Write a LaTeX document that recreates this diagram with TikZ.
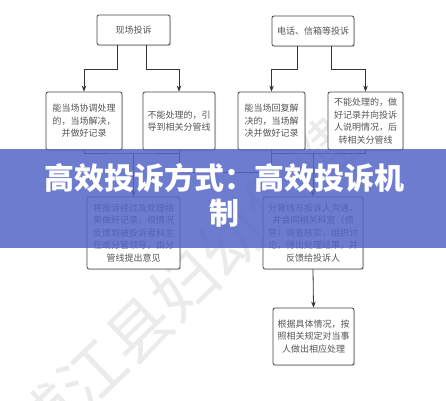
\documentclass[tikz,border=0pt]{standalone}
\usepackage{fontspec}
\newfontfamily\cjk{Noto Sans CJK SC}
\usetikzlibrary{arrows.meta,shadows,calc}
\definecolor{bandblue}{RGB}{84,102,198}
\definecolor{boxline}{RGB}{70,70,70}
\definecolor{boxtext}{RGB}{85,85,85}
\tikzset{
  flowbox/.style={draw=boxline, line width=0.8pt, rounded corners=2pt, fill=white,
    align=center, inner sep=0pt, text=boxtext,
    font=\cjk\fontsize{9}{12.5}\selectfont,
    drop shadow={shadow xshift=1pt, shadow yshift=-1.2pt, opacity=0.25}},
  conn/.style={draw=black!80, line width=0.8pt},
  arr/.style={conn, -{Stealth[length=6pt,width=4.5pt]}},
  titletext/.style={align=center, font=\cjk\bfseries\fontsize{30}{35}\selectfont}
}
\begin{document}
\begin{tikzpicture}[x=1pt,y=-1pt]
\useasboundingbox (0,0) rectangle (446,400);
\fill[white] (0,0) rectangle (446,400);
% watermark
\node[rotate=44, text=black!8, font=\cjk\fontsize{64}{70}\selectfont] (wm) at (185,285) {浦江县妇幼保健};
% boxes
\node[flowbox, minimum width=73pt, minimum height=30pt] (t1) at (133.5,30) {现场投诉};
\node[flowbox, minimum width=82pt, minimum height=30pt] (t2) at (313,31) {电话、信箱等投诉};
\node[flowbox, minimum width=76pt, minimum height=58pt] (b1) at (84,121) {能当场协调处理\\的，当场解决，\\并做好记录};
\node[flowbox, minimum width=72pt, minimum height=58pt] (b2) at (179,121) {不能处理的，引\\导到相关分管线};
\node[flowbox, minimum width=67pt, minimum height=58pt] (b3) at (271.5,121) {能当场回复解\\决的，当场解\\决并做好记录};
\node[flowbox, minimum width=75pt, minimum height=58pt] (b4) at (365.5,121) {不能处理的，做\\好记录并向投诉\\人说明情况，后\\转相关分管线};
\node[flowbox, minimum width=93pt, minimum height=72pt] (c1) at (133.5,233) {将投诉经过及处理结\\果做好记录，视情况\\反馈到被投诉者科主\\任或分管领导，由分\\管线提出意见};
\node[flowbox, minimum width=100pt, minimum height=72pt] (c2) at (313,233) {分管线与投诉人沟通，\\并会同相关科室（领\\导）调查核实，组织讨\\论，得出处理结果，并\\反馈给投诉人};
\node[flowbox, minimum width=81pt, minimum height=57pt] (d1) at (313.5,336.5) {根据具体情况，按\\照相关规定对当事\\人做出相应处理};
% connectors top
\draw[arr] ([xshift=-16.5pt]t1.south) -- ++(0,24) -| (b1.north);
\draw[arr] ([xshift=12.5pt]t1.south) -- ++(0,24) -| (b2.north);
\draw[arr] ([xshift=-16pt]t2.south) -- ++(0,23) -| (b3.north);
\draw[arr] ([xshift=18pt]t2.south) -- ++(0,23) -| (b4.north);
% connectors middle
\coordinate (j1) at (133.5,153);
\coordinate (j2) at (313,153);
\draw[conn] (b1.south) |- (j1) -| (b2.south);
\draw[arr] (j1) -- (c1.north);
\draw[conn] (b3.south) |- (j2) -| (b4.south);
\draw[arr] (j2) -- (c2.north);
\draw[conn] (b2.south) -- ++(0,22) -| (b3.south);
\draw[arr] (c2.south) -- (d1.north);
% banner
\fill[bandblue, opacity=0.85] (0,149) rectangle (446,248);
\node[titletext, text=white] (title) at (224,195) {高效投诉方式：高效投诉机\\制};
\end{tikzpicture}
\end{document}
